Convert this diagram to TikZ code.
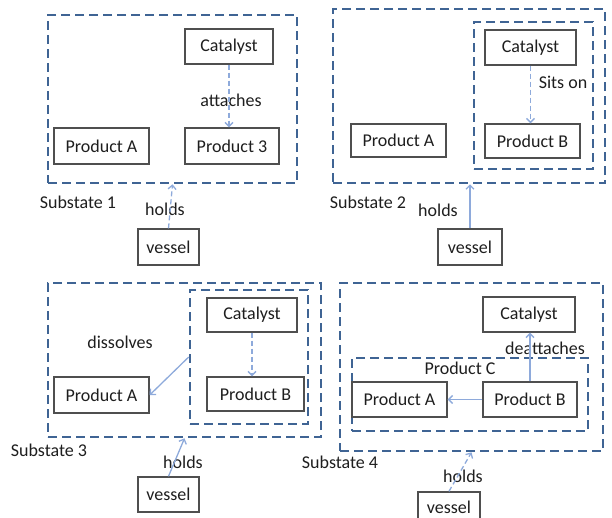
\documentclass[tikz,border=0pt]{standalone}
\usepackage{fontspec}
\setmainfont{Carlito}
\usetikzlibrary{arrows.meta}
\definecolor{dashblue}{HTML}{3F6494}
\definecolor{boxgray}{HTML}{4F4F4F}
\definecolor{arrblue}{HTML}{8EAADB}
\definecolor{txt}{HTML}{1E1E1E}
\tikzset{
  every node/.style={font=\fontsize{18}{20}\selectfont, text=txt},
  itembox/.style={draw=boxgray, line width=1.4pt, inner sep=0pt},
  groupbox/.style={draw=dashblue, line width=2.6pt, dash pattern=on 9pt off 5pt, inner sep=0pt},
  conn/.style={draw=arrblue, line width=1.3pt, -{Straight Barb[length=4pt,width=8pt]}},
  dconn/.style={conn, dash pattern=on 5pt off 3pt},
  lbl/.style={inner sep=1pt}
}
\begin{document}
\begin{tikzpicture}[x=1pt,y=-1pt]
\useasboundingbox (0,0) rectangle (612,517);
% ---------- Panel 1 ----------
\node[groupbox, minimum width=249pt, minimum height=168pt] (s1) at (172.5,99) {};
\node[itembox, minimum width=88pt, minimum height=35pt] (c1) at (229,46.5) {Catalyst};
\node[itembox, minimum width=95pt, minimum height=36pt] (pa1) at (101.5,146) {Product A};
\node[itembox, minimum width=94pt, minimum height=36pt] (p31) at (232,146) {Product 3};
\node[itembox, minimum width=61pt, minimum height=36pt] (v1) at (168.5,247) {vessel};
\node[lbl] (sub1) at (78,202) {Substate 1};
\node[lbl] (h1) at (165,209) {holds};
\node[lbl] (at1) at (231,100) {attaches};
\draw[dconn] (c1.south) -- (c1.south |- p31.north);
\draw[dconn] (v1.north) -- (s1.south);
% ---------- Panel 2 ----------
\node[groupbox, minimum width=272pt, minimum height=174pt] (s2) at (469,96) {};
\node[groupbox, minimum width=119pt, minimum height=147pt] (in2) at (533.5,95.5) {};
\node[itembox, minimum width=91pt, minimum height=35pt] (c2) at (530.5,47.5) {Catalyst};
\node[itembox, minimum width=95pt, minimum height=34pt] (pb2) at (532.5,141) {Product B};
\node[itembox, minimum width=95pt, minimum height=33pt] (pa2) at (398.5,140.5) {Product A};
\node[itembox, minimum width=64pt, minimum height=36pt] (v2) at (470,247) {vessel};
\node[lbl] (sub2) at (368,202) {Substate 2};
\node[lbl] (h2) at (438,210) {holds};
\node[lbl] (so2) at (563,82) {Sits on};
\draw[dconn] (c2.south) -- (c2.south |- pb2.north);
\draw[conn] (v2.north) -- (v2.north |- s2.south);
% ---------- Panel 3 ----------
\node[groupbox, minimum width=273pt, minimum height=154pt] (s3) at (184.5,360) {};
\node[groupbox, minimum width=118pt, minimum height=134pt] (in3) at (249,357) {};
\node[itembox, minimum width=90pt, minimum height=34pt] (c3) at (252,315) {Catalyst};
\node[itembox, minimum width=97pt, minimum height=34pt] (pb3) at (255.5,394) {Product B};
\node[itembox, minimum width=95pt, minimum height=36pt] (pa3) at (101.5,395) {Product A};
\node[itembox, minimum width=61pt, minimum height=35pt] (v3) at (168.5,494.5) {vessel};
\node[lbl] (dis3) at (120,342) {dissolves};
\node[lbl] (sub3) at (49,450) {Substate 3};
\node[lbl] (h3) at (183,462) {holds};
\draw[dconn] (c3.south) -- (c3.south |- pb3.north);
\draw[conn] (in3.west) -- (pa3.east);
\draw[conn] (v3.north) -- (s3.south);
% ---------- Panel 4 ----------
\node[groupbox, minimum width=263pt, minimum height=168pt] (s4) at (471.5,367) {};
\node[groupbox, minimum width=236pt, minimum height=73pt] (pc4) at (470,394.5) {};
\node[lbl] (pcl4) at (460,368) {Product C};
\node[itembox, minimum width=92pt, minimum height=35pt] (c4) at (529,314.5) {Catalyst};
\node[itembox, minimum width=95pt, minimum height=35pt] (pa4) at (399.5,399.5) {Product A};
\node[itembox, minimum width=94pt, minimum height=35pt] (pb4) at (530,399.5) {Product B};
\node[itembox, minimum width=62pt, minimum height=30pt] (v4) at (449,507) {vessel};
\node[lbl] (de4) at (545,348) {deattaches};
\node[lbl] (sub4) at (340,462) {Substate 4};
\node[lbl] (h4) at (463,476) {holds};
\draw[conn] (pb4.west) -- (pa4.east);
\draw[conn] (pb4.north) -- (pb4.north |- c4.south);
\draw[dconn] (v4.north) -- (s4.south);
\end{tikzpicture}
\end{document}
